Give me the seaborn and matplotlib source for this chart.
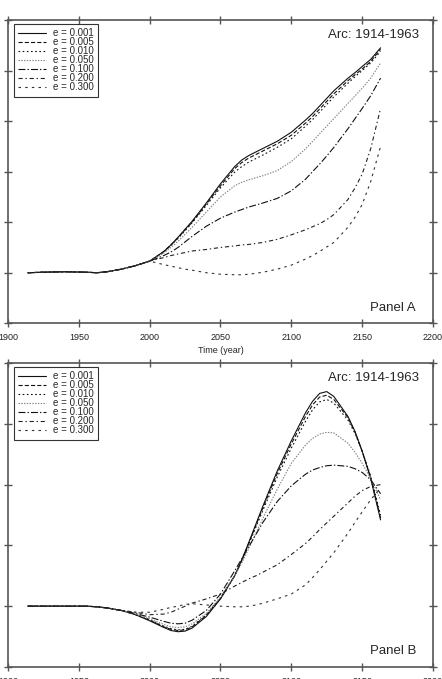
import pandas as pd
import seaborn as sns
import matplotlib.pyplot as plt

# === DANE ===
YEARS = [1914, 1925, 1940, 1955, 1963, 1970, 1980, 1990, 2000, 2010, 2015, 2020, 2025, 2030, 2040,
         2050, 2060, 2065, 2070, 2075, 2080, 2090, 2100, 2110, 2115, 2120, 2125, 2130, 2140, 2145,
         2150, 2156, 2163]
LABELS = ["e = 0.001", "e = 0.005", "e = 0.010", "e = 0.050", "e = 0.100", "e = 0.200", "e = 0.300"]

# Panel A
A_PRE = [1.0, 1.01, 1.02, 1.01, 1.0, 1.02, 1.07, 1.14, 1.23]
a_001 = A_PRE + [1.42, 1.55, 1.70, 1.86, 2.02, 2.38, 2.76, 3.10, 3.23, 3.32, 3.39, 3.46, 3.60, 3.78, 4.02, 4.15, 4.30, 4.45, 4.60, 4.85, 4.96, 5.08, 5.22, 5.45]
a_005 = A_PRE + [1.42, 1.55, 1.69, 1.85, 2.00, 2.36, 2.72, 3.06, 3.18, 3.27, 3.34, 3.41, 3.55, 3.72, 3.96, 4.09, 4.24, 4.39, 4.54, 4.80, 4.92, 5.03, 5.18, 5.42]
a_010 = A_PRE + [1.41, 1.54, 1.68, 1.83, 1.99, 2.33, 2.68, 2.99, 3.10, 3.19, 3.26, 3.33, 3.48, 3.65, 3.90, 4.03, 4.18, 4.33, 4.48, 4.75, 4.88, 5.00, 5.15, 5.38]
a_050 = A_PRE + [1.39, 1.50, 1.62, 1.76, 1.90, 2.20, 2.50, 2.72, 2.79, 2.84, 2.88, 2.92, 3.02, 3.20, 3.45, 3.60, 3.75, 3.90, 4.05, 4.35, 4.50, 4.65, 4.85, 5.15]
a_100 = A_PRE + [1.34, 1.41, 1.50, 1.61, 1.72, 1.92, 2.08, 2.20, 2.25, 2.30, 2.34, 2.38, 2.47, 2.62, 2.85, 3.00, 3.15, 3.31, 3.48, 3.85, 4.05, 4.25, 4.50, 4.85]
a_200 = A_PRE + [1.30, 1.34, 1.37, 1.40, 1.43, 1.46, 1.50, 1.53, 1.55, 1.56, 1.58, 1.60, 1.66, 1.75, 1.85, 1.91, 1.97, 2.05, 2.15, 2.45, 2.68, 2.95, 3.45, 4.25]
a_300 = A_PRE + [1.16, 1.13, 1.10, 1.07, 1.05, 1.00, 0.97, 0.96, 0.96, 0.97, 0.99, 1.01, 1.07, 1.15, 1.27, 1.34, 1.42, 1.51, 1.60, 1.90, 2.10, 2.35, 2.80, 3.50]

# Panel B
B_PRE = [1.0, 1.0, 1.0, 1.0, 0.99, 0.97, 0.93]
b_001 = B_PRE + [0.86, 0.76, 0.65, 0.60, 0.58, 0.59, 0.64, 0.83, 1.12, 1.50, 1.76, 2.05, 2.35, 2.65, 3.22, 3.72, 4.18, 4.37, 4.50, 4.53, 4.45, 4.12, 3.87, 3.55, 3.10, 2.42]
b_005 = B_PRE + [0.86, 0.77, 0.66, 0.62, 0.60, 0.61, 0.66, 0.85, 1.13, 1.50, 1.75, 2.04, 2.33, 2.62, 3.18, 3.67, 4.12, 4.31, 4.44, 4.47, 4.40, 4.10, 3.86, 3.55, 3.12, 2.45]
b_010 = B_PRE + [0.87, 0.78, 0.67, 0.63, 0.61, 0.62, 0.67, 0.86, 1.13, 1.50, 1.74, 2.02, 2.30, 2.58, 3.12, 3.60, 4.04, 4.23, 4.36, 4.40, 4.34, 4.06, 3.84, 3.55, 3.14, 2.50]
b_050 = B_PRE + [0.87, 0.79, 0.70, 0.66, 0.65, 0.66, 0.71, 0.88, 1.15, 1.50, 1.71, 1.95, 2.20, 2.45, 2.92, 3.35, 3.65, 3.76, 3.83, 3.86, 3.85, 3.68, 3.53, 3.35, 3.10, 2.75]
b_100 = B_PRE + [0.88, 0.82, 0.75, 0.72, 0.71, 0.72, 0.77, 0.93, 1.20, 1.58, 1.78, 1.98, 2.18, 2.38, 2.72, 2.98, 3.17, 3.24, 3.28, 3.31, 3.32, 3.30, 3.26, 3.20, 3.08, 2.85]
b_200 = B_PRE + [0.90, 0.86, 0.87, 0.90, 0.95, 1.00, 1.05, 1.12, 1.20, 1.33, 1.39, 1.45, 1.50, 1.56, 1.68, 1.85, 2.03, 2.14, 2.26, 2.37, 2.48, 2.70, 2.81, 2.90, 2.97, 3.00]
b_300 = B_PRE + [0.90, 0.90, 0.95, 0.98, 1.00, 1.03, 1.04, 1.02, 1.00, 0.99, 0.99, 1.00, 1.02, 1.05, 1.12, 1.20, 1.35, 1.47, 1.60, 1.74, 1.88, 2.20, 2.38, 2.55, 2.75, 2.95]

# === STYL ===
COLORS = ["#111111", "#111111", "#111111", "#808080", "#111111", "#222222", "#333333"]
DASHES = ["", (3, 1.5), (1.2, 1.8), (1, 1), (5, 1.5, 1, 1.5), (3, 2, 1, 2), (1.8, 3)]

sns.set_theme(style="ticks", rc={"lines.scale_dashes": False})
plt.rcParams["font.family"] = ["Liberation Sans", "DejaVu Sans"]


def long_df(series):
    rows = []
    for lab, vals in zip(LABELS, series):
        for yr, v in zip(YEARS, vals):
            rows.append({"year": yr, "value": v, "label": lab})
    return pd.DataFrame(rows)


fig = plt.figure(figsize=(4.42, 6.79), dpi=100)
axA = fig.add_axes([0.0181, 0.5239, 0.9615, 0.4466])
axB = fig.add_axes([0.0181, 0.0177, 0.9615, 0.4477])

panels = [
    (axA, [a_001, a_005, a_010, a_050, a_100, a_200, a_300], 6, "Panel A"),
    (axB, [b_001, b_005, b_010, b_050, b_100, b_200, b_300], 5, "Panel B"),
]

for ax, series, ytop, name in panels:
    df = long_df(series)
    sns.lineplot(data=df, x="year", y="value", hue="label", style="label",
                 hue_order=LABELS, style_order=LABELS,
                 palette=dict(zip(LABELS, COLORS)), dashes=dict(zip(LABELS, DASHES)),
                 linewidth=0.8, estimator=None, ax=ax)
    ax.set_xlim(1900, 2200)
    ax.set_ylim(0, ytop)
    ax.set_xticks(range(1900, 2201, 50))
    ax.set_yticks(range(0, ytop + 1))
    ax.tick_params(direction="inout", length=6, width=1, color="#555555",
                   top=True, right=True, labelleft=False, labelsize=6.5,
                   pad=4, labelcolor="#222222")
    for sp in ax.spines.values():
        sp.set_color("#555555")
        sp.set_linewidth(1.2)
    ax.set_ylabel("")
    ax.set_xlabel("")

    # legenda w lewym górnym rogu
    handles, labels = ax.get_legend_handles_labels()
    leg = ax.legend(handles, labels, loc="upper left", bbox_to_anchor=(0.013, 0.988),
                    fontsize=7, frameon=True, fancybox=False, handlelength=2.9,
                    labelspacing=-0.1, borderpad=0.45, handletextpad=0.7,
                    borderaxespad=0)
    leg.get_frame().set_edgecolor("black")
    leg.get_frame().set_linewidth(0.8)

    ax.text(0.967, 0.972, "Arc: 1914-1963", transform=ax.transAxes,
            ha="right", va="top", fontsize=9.5)
    ax.text(0.96, 0.032, name, transform=ax.transAxes,
            ha="right", va="bottom", fontsize=9.5)

axA.set_xlabel("Time (year)", fontsize=6.5, labelpad=3)

fig.savefig("out.png", dpi=100)
